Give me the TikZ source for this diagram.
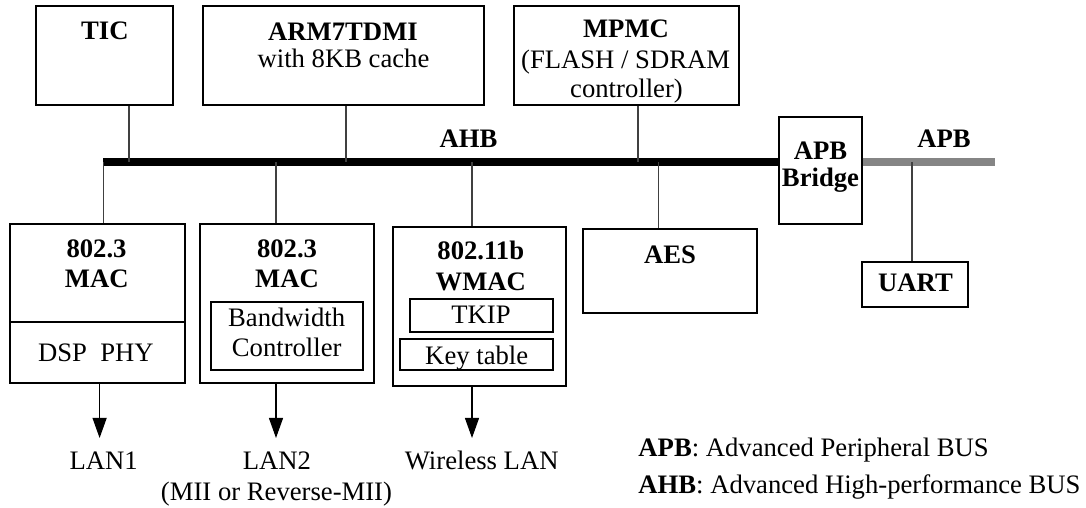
\documentclass[tikz,border=0pt]{standalone}
\usepackage{fontspec}
\setmainfont{Liberation Serif}
\usetikzlibrary{fit,arrows.meta}

\tikzset{
  blk/.style={draw, line width=0.6pt, inner sep=0pt},
  conn/.style={draw=black!75, line width=0.5pt},
  outarrow/.style={draw=black, line width=0.5pt, -{Triangle[length=9pt,width=6.3pt]}},
  ahbbus/.style={line width=3.6pt, black},
  apbbus/.style={line width=3.6pt, black!48},
  txt/.style={anchor=base, inner sep=0pt, font=\fontsize{12pt}{13.5pt}\selectfont},
  btxt/.style={txt, font=\fontsize{12pt}{13.5pt}\selectfont\bfseries},
}

\begin{document}
\begin{tikzpicture}[x=0.45pt,y=-0.45pt]
\useasboundingbox (0,0) rectangle (1086,508);

% blocks above the bus
\node (tic) [blk, fit={(36,6) (173,105)}] {};
\node (arm) [blk, fit={(203,6) (484,105)}] {};
\node (mpmc) [blk, fit={(514,6) (739,105)}] {};
\node (bridge) [blk, fit={(779,117) (862,224)}] {};

% blocks below the bus
\node (mac1) [blk, fit={(10,224) (185,383)}] {};
\node (mac2) [blk, fit={(200,224) (374,383)}] {};
\node (bwc) [blk, fit={(211,302) (363,370)}] {};
\node (wmac) [blk, fit={(393,227) (566,386)}] {};
\node (tkip) [blk, fit={(410,299) (553,332)}] {};
\node (keytab) [blk, fit={(400,339) (553,370)}] {};
\node (aes) [blk, fit={(583,229) (757,313)}] {};
\node (uart) [blk, fit={(862,262) (968,307)}] {};

\coordinate (macdiv) at (0,322);
\draw [line width=0.6pt] (macdiv -| mac1.west) -- (macdiv -| mac1.east);

% buses
\coordinate (ahbW) at (103,162);
\coordinate (apbE) at (995,162);
\draw [ahbbus] (ahbW) -- (ahbW -| bridge.west);
\draw [apbbus] (apbE -| bridge.east) -- (apbE);

% taps
\coordinate (tTic) at (129,162);
\coordinate (tArm) at (346,162);
\coordinate (tMpmc) at (638,162);
\coordinate (tMac1) at (103.6,162);
\coordinate (tMac2) at (276,162);
\coordinate (tWmac) at (472,162);
\coordinate (tAes) at (658.6,162);
\coordinate (tUart) at (912,162);
\draw [conn] (tTic) -- (tTic |- tic.south);
\draw [conn] (tArm) -- (tArm |- arm.south);
\draw [conn] (tMpmc) -- (tMpmc |- mpmc.south);
\draw [conn] (tMac1) -- (tMac1 |- mac1.north);
\draw [conn] (tMac2) -- (tMac2 |- mac2.north);
\draw [conn] (tWmac) -- (tWmac |- wmac.north);
\draw [conn] (tAes) -- (tAes |- aes.north);
\draw [conn] (tUart) -- (tUart |- uart.north);

% outputs
\coordinate (lan1in) at (99.6,438);
\coordinate (lan2in) at (276,438);
\coordinate (wlanin) at (472,438);
\draw [outarrow] (lan1in |- mac1.south) -- (lan1in);
\draw [outarrow] (lan2in |- mac2.south) -- (lan2in);
\draw [outarrow] (wlanin |- wmac.south) -- (wlanin);

% texts
\node (tictxt) at (104.8,39.3) [btxt] {TIC};
\node (armtxt) at (343,41) [btxt] {ARM7TDMI};
\node (armsub) at (343.5,68) [txt] {with 8KB cache};
\node (mpmctxt) at (626,37.3) [btxt] {MPMC};
\node (mpmcsubA) at (625.6,68.5) [txt] {(FLASH / SDRAM};
\node (mpmcsubB) at (626.5,98) [txt] {controller)};
\node (ahbtxt) at (468.6,147.7) [btxt] {AHB};
\node (apbtxt) at (944,147.7) [btxt] {APB};
\node (brtxtA) at (820.5,159.3) [btxt] {APB};
\node (brtxtB) at (820.5,187) [btxt] {Bridge};

\node (mac1txtA) at (96.5,258) [btxt] {802.3};
\node (mac1txtB) at (96.8,288) [btxt] {MAC};
\node (phytxt) at (95.9,362) [txt] {DSP~~PHY};
\node (mac2txtA) at (287,258) [btxt] {802.3};
\node (mac2txtB) at (287,288) [btxt] {MAC};
\node (bwctxtA) at (286.7,326.7) [txt] {Bandwidth};
\node (bwctxtB) at (286.7,357) [txt] {Controller};
\node (wmactxtA) at (480.8,260) [btxt] {802.11b};
\node (wmactxtB) at (480.8,290.7) [btxt] {WMAC};
\node (tkiptxt) at (481,323.3) [txt] {TKIP};
\node (keytxt) at (476.7,365) [txt] {Key table};
\node (aestxt) at (670,263.3) [btxt] {AES};
\node (uarttxt) at (915.5,291.7) [btxt] {UART};

\node (lan1) at (103.6,469.3) [txt] {LAN1};
\node (lan2) at (276.9,469.3) [txt] {LAN2};
\node (lan2sub) at (276.5,500.7) [txt] {(MII or Reverse-MII)};
\node (wlan) at (481.7,469.3) [txt] {Wireless LAN};

% legend
\node (legapb) at (638,456.7) [txt, anchor=base west] {\textbf{APB}: Advanced Peripheral BUS};
\node (legahb) at (638,493.3) [txt, anchor=base west] {\textbf{AHB}: Advanced High-performance BUS};
\end{tikzpicture}
\end{document}
